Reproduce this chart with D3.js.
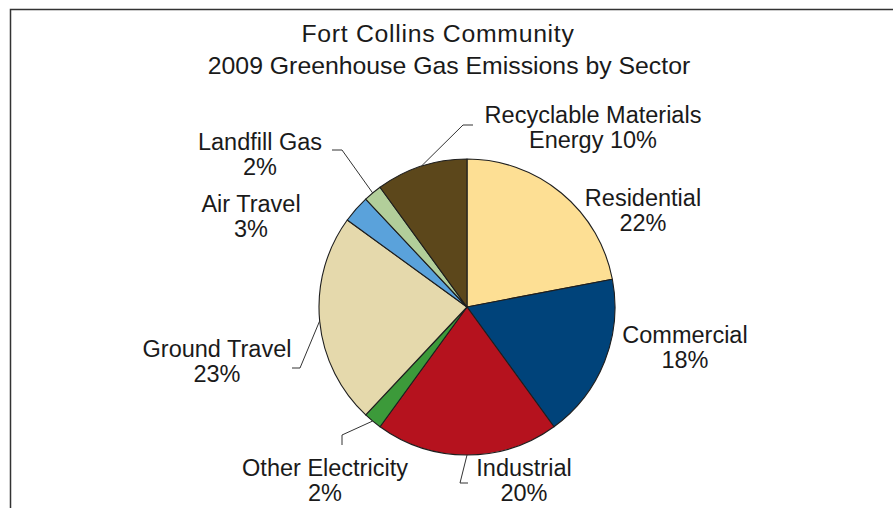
<!DOCTYPE html>
<html>
<head>
<meta charset="utf-8">
<script src="https://cdn.jsdelivr.net/npm/d3@7"></script>
<style>
  html, body { margin: 0; padding: 0; background: #fff; }
  svg { display: block; font-family: "Liberation Sans", Arial, sans-serif; }
</style>
</head>
<body>
<svg id="chart" width="893" height="508"></svg>
<script>
// Sector shares of 2009 community emissions (percent), clockwise from 12 o'clock
const sectors = ["Residential", "Commercial", "Industrial", "Other Electricity",
                 "Ground Travel", "Air Travel", "Landfill Gas", "Recyclable Materials Energy"];
const shares  = [22, 18, 20, 2, 23, 3, 2, 10];
const colors  = ["#FDDF94", "#00437A", "#B5121E", "#3C9A3A",
                 "#E5D9AC", "#5AA2DB", "#B2CE9A", "#5C471B"];
const titleLines = ["Fort Collins Community", "2009 Greenhouse Gas Emissions by Sector"];

// Label text lines, placement and leader routes (elbow, end)
const labelLines = [
  ["Residential", "22%"], ["Commercial", "18%"], ["Industrial", "20%"],
  ["Other Electricity", "2%"], ["Ground Travel", "23%"], ["Air Travel", "3%"],
  ["Landfill Gas", "2%"], ["Recyclable Materials", "Energy 10%"]
];
const labelPos = [
  [643, 206], [685, 343], [524, 476], [325, 476],
  [217, 357], [251, 212], [260, 150], [593, 123]
];
const leaders = [
  null, null,
  [[460, 483], [468, 483]],
  [[342, 435], [342, 445]],
  [[300, 368], [292, 368]],
  null,
  [[342, 150], [332, 150]],
  [[463, 125], [473, 125]]
];

const svg = d3.select("#chart");
const cx = 467, cy = 307, r = 148;

// Frame
svg.append("path")
  .attr("d", "M10.5,508 V9.5 H893")
  .attr("fill", "none").attr("stroke", "#333").attr("stroke-width", 1.5);

// Title
svg.append("g").selectAll("text").data(titleLines).join("text")
  .attr("x", (d, i) => i === 0 ? 438 : 449)
  .attr("y", (d, i) => 42 + i * 32)
  .attr("text-anchor", "middle")
  .attr("font-size", 24.8)
  .attr("letter-spacing", (d, i) => i === 0 ? 0.7 : 0)
  .attr("fill", "#1a1a1a")
  .text(d => d);

const pie = d3.pie().sort(null).value(d => d)(shares);
const arc = d3.arc().innerRadius(0).outerRadius(r);
const rim = d3.arc().innerRadius(r).outerRadius(r);

const g = svg.append("g").attr("transform", `translate(${cx},${cy})`);
g.selectAll("path").data(pie).join("path")
  .attr("d", arc)
  .attr("fill", (d, i) => colors[i])
  .attr("stroke", "#1e1e1e")
  .attr("stroke-width", 1.1)
  .attr("stroke-linejoin", "round");

// Leader lines from the rim midpoint of each slice
const lead = svg.append("g").attr("fill", "none").attr("stroke", "#333").attr("stroke-width", 1);
pie.forEach((d, i) => {
  if (!leaders[i]) return;
  const [sx, sy] = rim.centroid(d);
  const pts = [[cx + sx, cy + sy], ...leaders[i]];
  lead.append("path").attr("d", d3.line()(pts));
});

// Labels
const lab = svg.append("g").attr("font-size", 23.5).attr("fill", "#1a1a1a").attr("text-anchor", "middle");
labelLines.forEach((lines, i) => {
  const t = lab.append("text").attr("x", labelPos[i][0]).attr("y", labelPos[i][1]);
  lines.forEach((s, j) => {
    t.append("tspan").attr("x", labelPos[i][0]).attr("dy", j === 0 ? 0 : 24.5).text(s);
  });
});
</script>
</body>
</html>
